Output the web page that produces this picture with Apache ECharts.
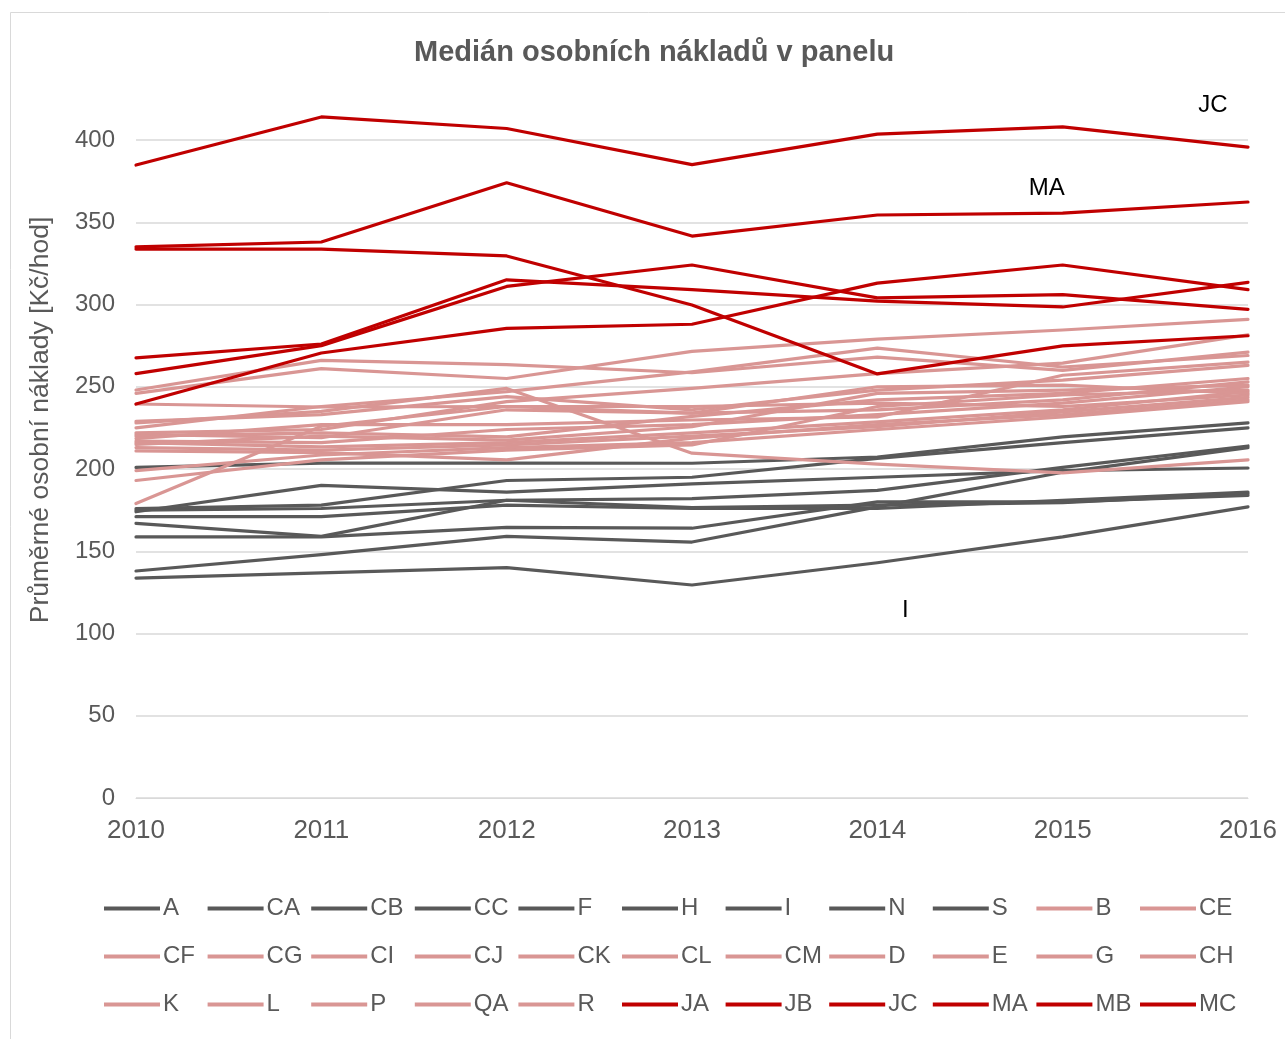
<!DOCTYPE html>
<html>
<head>
<meta charset="utf-8">
<script src="https://cdn.jsdelivr.net/npm/echarts@6/dist/echarts.min.js"></script>
<style>
  html, body { margin: 0; padding: 0; background: #fff; }
  #chart { width: 1285px; height: 1039px; }
</style>
</head>
<body>
<div id="chart"></div>
<script>
// roky na ose x
const years = ['2010', '2011', '2012', '2013', '2014', '2015', '2016'];

// šedé řady
const grayNames = ['A', 'CA', 'CB', 'CC', 'F', 'H', 'I', 'N', 'S'];
const grayData = [
  [201, 203.6, 203.6, 203.5, 207.3, 219.5, 228],
  [174, 190, 186, 191, 195, 199, 200.6],
  [176, 178, 193, 195, 206.5, 216, 225],
  [175, 176, 181, 182, 187, 201, 214],
  [171, 171, 178, 176, 176, 181, 186],
  [167, 159, 181, 176.5, 178, 179.5, 185],
  [133.7, 136.8, 140, 129.5, 143, 158.7, 177],
  [158.7, 158.7, 164.5, 164, 180, 180, 184],
  [138, 148, 159, 155.6, 177, 198, 213]
];

// růžové řady
const pinkNames = ['B', 'CE', 'CF', 'CG', 'CI', 'CJ', 'CK', 'CL', 'CM', 'D', 'E', 'G', 'CH', 'K', 'L', 'P', 'QA', 'R'];
const pinkData = [
  [248, 266, 263.5, 258.5, 268, 260, 271],
  [246, 261, 255, 271.5, 279, 284.5, 291],
  [239.5, 237.7, 238, 238, 240, 238, 245],
  [229, 233, 244, 236, 248, 254, 263],
  [228, 235, 249, 209.6, 203, 197.6, 205.5],
  [225, 238, 247, 259, 273.5, 262, 269],
  [222, 224, 241, 249, 258, 264.4, 281.5],
  [221, 219, 236, 234, 236, 242, 253],
  [220, 222, 219.5, 232, 242, 246, 255],
  [218.5, 227, 227, 229.8, 231.6, 257, 265],
  [217, 216, 224, 227, 233, 240, 250],
  [216, 213.5, 216, 222, 228.6, 236, 247],
  [215, 220, 217.6, 225.7, 246, 248, 251],
  [213, 211.5, 214.6, 220, 225.7, 234.7, 243.5],
  [211, 210, 205.5, 218.8, 227, 233, 242],
  [199, 208.5, 213, 216, 224, 231.6, 241],
  [193, 205.5, 211.5, 214.6, 238, 245, 248],
  [179, 226, 238, 234, 250, 251, 246]
];

// červené řady
const redNames = ['JA', 'JB', 'JC', 'MA', 'MB', 'MC'];
const redData = [
  [267.5, 276, 315, 309, 302, 298.5, 313.5],
  [258, 275, 311, 324, 304, 306, 297],
  [384.8, 414, 407, 385, 403.6, 408, 395.7],
  [335, 338, 374, 341.6, 354.4, 355.6, 362.3],
  [333.7, 333.7, 329.5, 299.7, 257.8, 274.8, 281],
  [239.5, 270.5, 285.5, 288, 313, 324, 309]
];

// popisky přímo v grafu: [řada, index roku, posun]
const callouts = [
  ['JC', 6, [-35, -42]],
  ['MA', 5, [-16, -25]],
  ['I', 4, [28, 48]]
];

const chart = echarts.init(document.getElementById('chart'));

function makeSeries(names, data, color) {
  return names.map((name, i) => {
    const s = {
      name: name,
      type: 'line',
      data: data[i],
      symbol: 'none',
      clip: false,
      lineStyle: { color: color, width: 3.2, join: 'round', cap: 'round' },
      itemStyle: { color: color },
      emphasis: { disabled: true }
    };
    const c = callouts.find(x => x[0] === name);
    if (c) {
      s.markPoint = {
        symbol: 'circle',
        symbolSize: 0,
        silent: true,
        data: [{ coord: [c[1], data[i][c[1]]] }],
        label: {
          show: true,
          formatter: name,
          offset: c[2],
          color: '#000',
          fontSize: 24,
          fontFamily: 'Liberation Sans'
        }
      };
    }
    return s;
  });
}

const series = []
  .concat(makeSeries(grayNames, grayData, '#595959'))
  .concat(makeSeries(pinkNames, pinkData, '#D99694'))
  .concat(makeSeries(redNames, redData, '#C00000'));

const option = {
  animation: false,
  backgroundColor: '#fff',
  title: {
    text: 'Medián osobních nákladů v panelu',
    left: 409,
    top: 33,
    textStyle: { fontFamily: 'Liberation Sans', fontSize: 29, fontWeight: 'bold', color: '#595959' }
  },
  grid: { left: 136, right: 37, top: 140, bottom: 241 },
  xAxis: {
    type: 'category',
    data: years,
    boundaryGap: false,
    axisLine: { lineStyle: { color: '#D9D9D9', width: 1 } },
    axisTick: { show: false },
    axisLabel: { color: '#595959', fontSize: 26, fontFamily: 'Liberation Sans', margin: 20 }
  },
  yAxis: {
    type: 'value',
    min: 0,
    max: 400,
    interval: 50,
    axisLine: { show: false },
    axisTick: { show: false },
    splitLine: { lineStyle: { color: '#D9D9D9', width: 1.5 } },
    axisLabel: { color: '#595959', fontSize: 24, fontFamily: 'Liberation Sans', margin: 21 }
  },
  legend: {
    left: 104,
    top: 887,
    padding: 0,
    width: 1175,
    icon: 'rect',
    itemWidth: 56,
    itemHeight: 4,
    itemGap: 5,
    selectedMode: false,
    data: grayNames.concat(pinkNames, redNames),
    textStyle: {
      color: '#595959',
      fontSize: 24,
      fontFamily: 'Liberation Sans',
      width: 39.6,
      lineHeight: 43,
      padding: [0, 0, 0, -2]
    }
  },
  graphic: [
    {
      type: 'rect',
      shape: { x: 10.5, y: 12.5, width: 1300, height: 1100 },
      style: { fill: 'none', stroke: '#D9D9D9', lineWidth: 1 },
      silent: true
    },
    {
      type: 'text',
      x: 41,
      y: 420,
      rotation: Math.PI / 2,
      style: {
        text: 'Průměrné osobní náklady [Kč/hod]',
        fill: '#595959',
        font: '26.5px "Liberation Sans"',
        textAlign: 'center',
        textVerticalAlign: 'middle'
      }
    }
  ],
  series: series
};

chart.setOption(option);
</script>
</body>
</html>
